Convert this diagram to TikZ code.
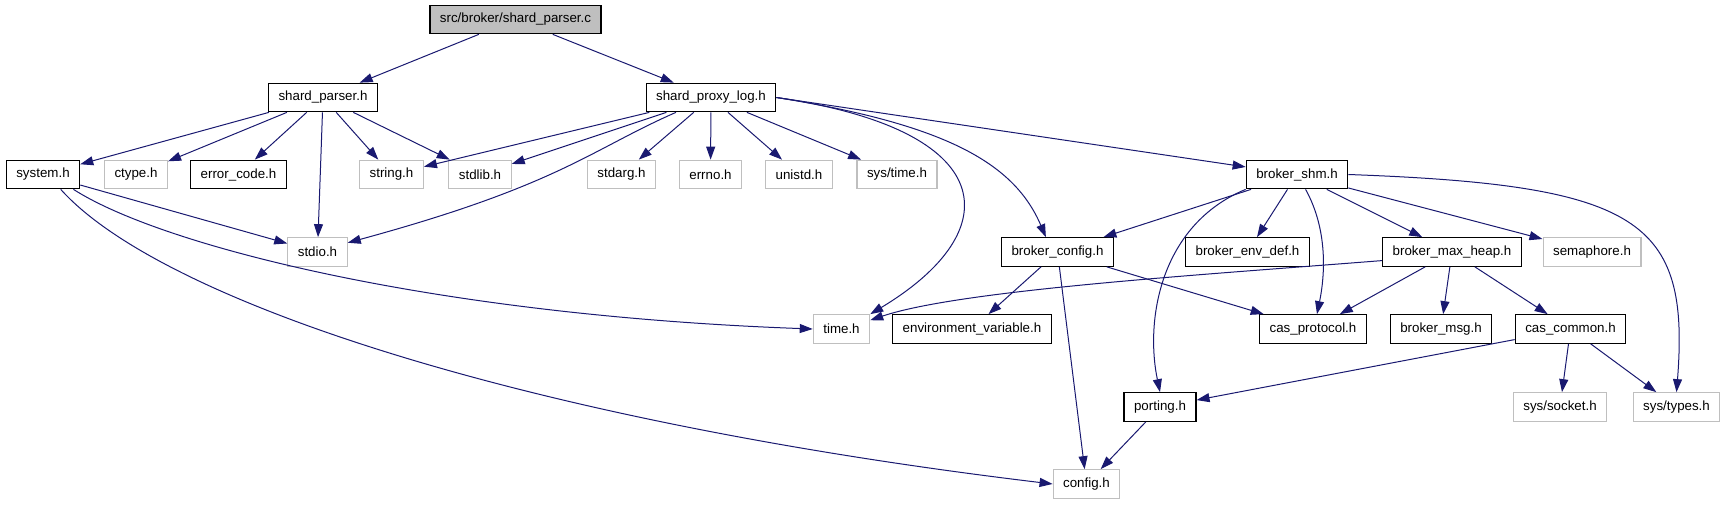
\documentclass[tikz,border=0pt]{standalone}
\usepackage{fontspec}
\setmainfont{Liberation Sans}
\usepackage{xcolor}
\usepackage{tikz}
\usetikzlibrary{arrows.meta}
\definecolor{edgeblue}{HTML}{191970}
\definecolor{lightgrey}{HTML}{BFBFBF}

\begin{document}
\begin{tikzpicture}[x=0.75pt, y=-0.75pt]
  \tikzstyle{file} = [rectangle, draw=black, line width=0.9pt, minimum height=21.4pt, inner xsep=7.5pt, font=\fontsize{10}{12}\selectfont]
  \tikzstyle{sys} = [file, draw=lightgrey]
  \tikzstyle{dep} = [draw=edgeblue, line width=0.75pt, -{Triangle[length=9.75pt, width=6.75pt]}]
  \useasboundingbox (0,0) rectangle (1728,504);
  \node[file, fill=lightgrey] (root) at (515.5,19.5) {src/broker/shard\_parser.c};
  \node[file] (shardparser) at (323,97.5) {shard\_parser.h};
  \node[file] (proxylog) at (711,97.5) {shard\_proxy\_log.h};
  \node[file] (system) at (43,174.5) {system.h};
  \node[sys] (ctype) at (136,174.5) {ctype.h};
  \node[file] (errorcode) at (238.5,174.5) {error\_code.h};
  \node[sys] (string) at (391.5,174.5) {string.h};
  \node[sys] (stdlib) at (480,174.5) {stdlib.h};
  \node[sys] (stdarg) at (621.5,174.5) {stdarg.h};
  \node[sys] (errno) at (710.5,174.5) {errno.h};
  \node[sys] (unistd) at (799,174.5) {unistd.h};
  \node[sys] (systime) at (897,174.5) {sys/time.h};
  \node[file] (brokershm) at (1297,174.5) {broker\_shm.h};
  \node[sys] (stdio) at (317.5,252) {stdio.h};
  \node[file] (brokerconfig) at (1057.5,252) {broker\_config.h};
  \node[file] (envdef) at (1247.5,252) {broker\_env\_def.h};
  \node[file] (maxheap) at (1452,252) {broker\_max\_heap.h};
  \node[sys] (semaphore) at (1592,252) {semaphore.h};
  \node[sys] (timeh) at (841.5,329) {time.h};
  \node[file] (envvar) at (972,329) {environment\_variable.h};
  \node[file] (casprotocol) at (1313,329) {cas\_protocol.h};
  \node[file] (brokermsg) at (1441,329) {broker\_msg.h};
  \node[file] (cascommon) at (1570.5,329) {cas\_common.h};
  \node[file] (porting) at (1160,407) {porting.h};
  \node[sys] (syssocket) at (1560,407) {sys/socket.h};
  \node[sys] (systypes) at (1676.5,407) {sys/types.h};
  \node[sys] (config) at (1086.5,484) {config.h};
  \draw[dep] (root) -- (shardparser);
  \draw[dep] (root) -- (proxylog);
  \draw[dep] (shardparser) -- (system);
  \draw[dep] (shardparser) -- (ctype);
  \draw[dep] (shardparser) -- (errorcode);
  \draw[dep] (shardparser) -- (stdio);
  \draw[dep] (shardparser) -- (string);
  \draw[dep] (shardparser) -- (stdlib);
  \draw[dep] (proxylog) -- (string);
  \draw[dep] (proxylog) -- (stdlib);
  \draw[dep] (proxylog.203) .. controls (590,150) and (560,185) .. (stdio.17);
  \draw[dep] (proxylog) -- (stdarg);
  \draw[dep] (proxylog) -- (errno);
  \draw[dep] (proxylog) -- (unistd);
  \draw[dep] (proxylog) -- (systime);
  \draw[dep] (proxylog.east) .. controls (1000,130) and (1010,230) .. (timeh.north east);
  \draw[dep] (proxylog.east) .. controls (950,125) and (1015,165) .. (brokerconfig.128);
  \draw[dep] (proxylog.east) -- (brokershm);
  \draw[dep] (system) -- (stdio);
  \draw[dep] (system.-26) .. controls (160,245) and (430,315) .. (timeh.west);
  \draw[dep] (system.-40) .. controls (160,300) and (520,420) .. (config.west);
  \draw[dep] (brokershm) -- (brokerconfig);
  \draw[dep] (brokershm) -- (envdef);
  \draw[dep] (brokershm.-60) .. controls (1328,230) and (1325,275) .. (casprotocol.75);
  \draw[dep] (brokershm) -- (maxheap);
  \draw[dep] (brokershm) -- (semaphore);
  \draw[dep] (brokershm.south west) .. controls (1160,225) and (1145,320) .. (porting.north);
  \draw[dep] (brokershm.east) .. controls (1640,185) and (1690,220) .. (systypes.north);
  \draw[dep] (brokerconfig) -- (envvar);
  \draw[dep] (brokerconfig) -- (casprotocol);
  \draw[dep] (brokerconfig) -- (config);
  \draw[dep] (maxheap.187) .. controls (1200,275) and (960,290) .. (timeh.17);
  \draw[dep] (maxheap) -- (casprotocol);
  \draw[dep] (maxheap) -- (brokermsg);
  \draw[dep] (maxheap) -- (cascommon);
  \draw[dep] (cascommon) -- (porting);
  \draw[dep] (cascommon) -- (syssocket);
  \draw[dep] (cascommon) -- (systypes);
  \draw[dep] (porting) -- (config);
\end{tikzpicture}
\end{document}
